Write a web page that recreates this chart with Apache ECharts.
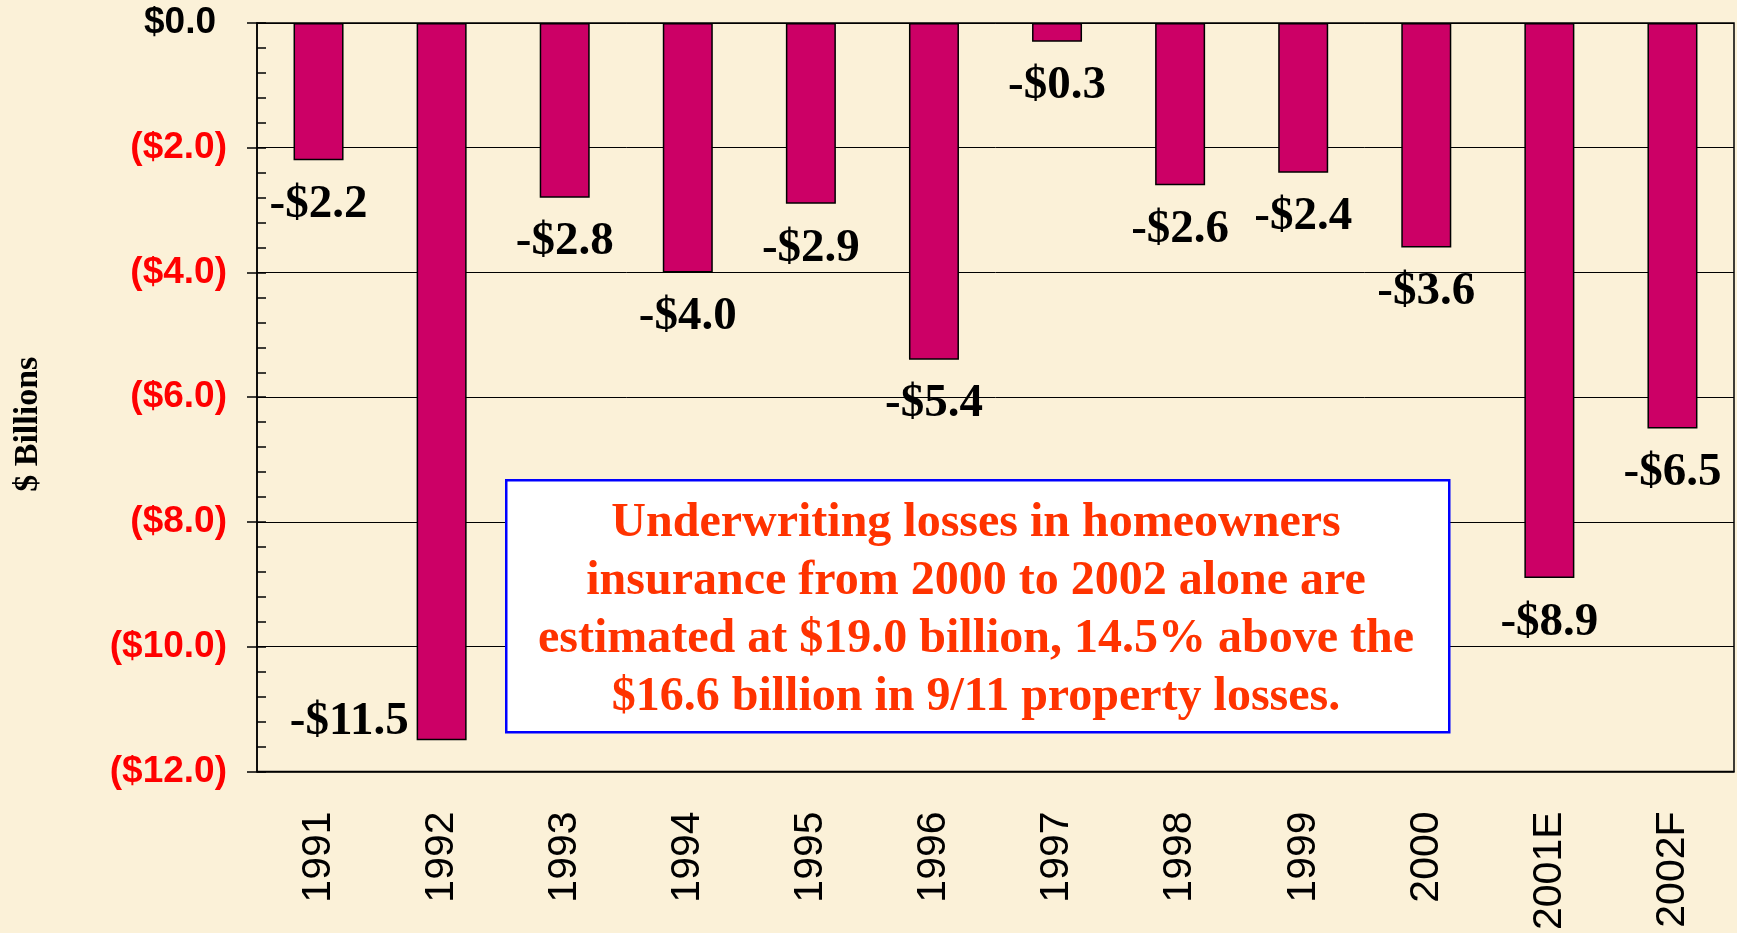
<!DOCTYPE html>
<html>
<head>
<meta charset="utf-8">
<title>Homeowners underwriting losses</title>
<script src="https://cdn.jsdelivr.net/npm/echarts@6/dist/echarts.min.js"></script>
<style>
  html, body { margin: 0; padding: 0; background: #fbf1d8; }
  #chart { width: 1737px; height: 933px; }
</style>
</head>
<body>
<div id="chart"></div>
<script>
// data ($ billions)
const years = ['1991', '1992', '1993', '1994', '1995', '1996', '1997', '1998', '1999', '2000', '2001E', '2002F']
const losses = [-2.2, -11.5, -2.8, -4.0, -2.9, -5.4, -0.3, -2.6, -2.4, -3.6, -8.9, -6.5]
const noteLines = [
  'Underwriting losses in homeowners',
  'insurance from 2000 to 2002 alone are',
  'estimated at $19.0 billion, 14.5% above the',
  '$16.6 billion in 9/11 property losses.'
]

const serif = '"Liberation Serif", "Times New Roman", serif'
const sans = '"Liberation Sans", Arial, sans-serif'

const chart = echarts.init(document.getElementById('chart'))

const barData = losses.map((v, i) => {
  // 1992 label sits to the left of its bar
  if (years[i] === '1992') {
    return {
      value: v,
      label: {position: [-8, '100%'], align: 'right', verticalAlign: 'bottom', offset: [0, 5]}
    }
  }
  return v
})

const option = {
  backgroundColor: '#fbf1d8',
  animation: false,
  grid: {
    left: 257, right: 3, top: 23, bottom: 161,
    show: true, borderColor: '#000', borderWidth: 1.5, backgroundColor: 'transparent'
  },
  xAxis: {
    type: 'category',
    data: years,
    position: 'bottom',
    axisLine: {onZero: false, lineStyle: {color: '#000', width: 1.5}},
    axisTick: {show: false},
    axisLabel: {rotate: 90, margin: 40, fontSize: 41, fontFamily: sans, color: '#000'}
  },
  yAxis: [
    {
      type: 'value',
      min: -12, max: 0, interval: 2,
      name: '$ Billions',
      nameLocation: 'middle',
      nameGap: 212,
      nameRotate: 90,
      nameTextStyle: {fontSize: 34, fontWeight: 'bold', fontFamily: serif, color: '#000', padding: [0, 54, 0, 0]},
      axisLine: {show: true, lineStyle: {color: '#000', width: 1.5}},
      axisTick: {show: true, length: 10, lineStyle: {color: '#000', width: 1.5}},
      splitLine: {show: true, lineStyle: {color: '#000', width: 1}},
      axisLabel: {
        margin: 30,
        fontSize: 37,
        fontWeight: 'bold',
        fontFamily: sans,
        // zero keeps the room of the closing bracket, like the accounting format
        formatter: (val) => val === 0 ? '{z|$0.0}' : '($' + Math.abs(val).toFixed(1) + ')',
        color: (val) => Number(val) === 0 ? '#000' : '#ff0000',
        rich: {
          z: {fontSize: 37, fontWeight: 'bold', fontFamily: sans, color: '#000', padding: [0, 11, 0, 0]}
        }
      }
    },
    {
      // minor ticks on the inside of the axis
      type: 'value',
      min: -12, max: 0, interval: 0.4,
      position: 'left',
      axisLine: {show: false},
      axisTick: {show: true, inside: true, length: 9, lineStyle: {color: '#000', width: 1.5}},
      axisLabel: {show: false},
      splitLine: {show: false}
    }
  ],
  series: [
    {
      type: 'bar',
      data: barData,
      barWidth: 50,
      itemStyle: {color: '#cc0066', borderColor: '#000', borderWidth: 1.5},
      label: {
        show: true,
        position: 'bottom',
        distance: 21,
        fontSize: 47,
        fontWeight: 'bold',
        fontFamily: serif,
        color: '#000',
        formatter: (p) => '-$' + Math.abs(p.value).toFixed(1)
      },
      z: 3
    }
  ],
  graphic: [
    {
      type: 'rect',
      left: 505, top: 479,
      shape: {width: 943, height: 252},
      style: {fill: '#fff', stroke: '#0000ff', lineWidth: 2.5},
      z: 10
    },
    {
      type: 'text',
      x: 976, y: 611,
      style: {
        text: noteLines.join('\n'),
        fill: '#ff3300',
        font: 'bold 48px ' + serif,
        lineHeight: 58,
        align: 'center',
        verticalAlign: 'middle'
      },
      z: 11
    }
  ]
}

chart.setOption(option)
</script>
</body>
</html>
